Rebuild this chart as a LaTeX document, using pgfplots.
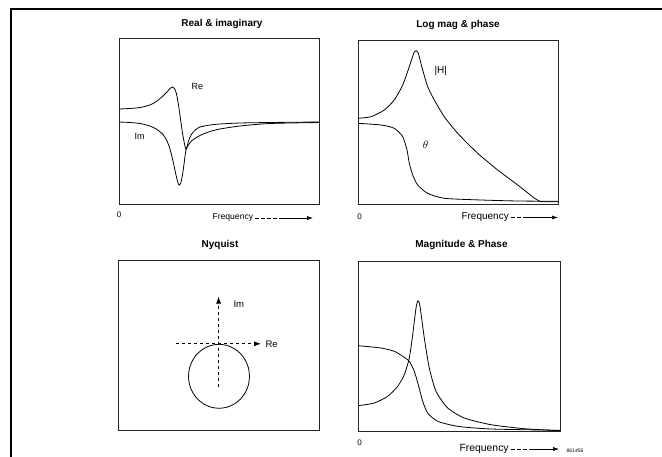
\documentclass[border=0pt]{standalone}
\usepackage{pgfplots}
\pgfplotsset{compat=1.18}
\usepackage{fontspec}
\setmainfont{Liberation Sans}
\usetikzlibrary{arrows.meta}
\pgfplotsset{
  panel/.style={scale only axis, y dir=reverse, xtick=\empty, ytick=\empty,
    axis line style={line width=0.7pt, black!85}, clip=false},
  curve/.style={black, line width=0.8pt, smooth, tension=0.4, mark=none},
}
\begin{document}
\begin{tikzpicture}
\path[use as bounding box] (0,0) rectangle (662pt,-457pt);
% outer frame
\draw[line width=2.6pt, black] (11pt,-457pt) -- (11pt,-9pt) -- (662pt,-9pt);

% Panel 1: Real & imaginary
\begin{axis}[panel, at={(119pt,-38pt)}, anchor=north west, width=200pt, height=166pt,
  xmin=119, xmax=319, ymin=38, ymax=204]
\addplot[curve] coordinates {(119,109) (130,108.5) (140,107.5) (150,105) (157,101) (163,96) (167,92) (170,88.5) (172.5,87) (174.5,88.5) (176.5,94) (178.5,105) (180.5,119) (182.5,133) (184.5,144) (185.8,149) (187.2,146) (189,139.5) (192,133.5) (196,129.5) (200,127) (210,125) (220,124) (240,123) (270,122.5) (319,122)};
\addplot[curve] coordinates {(119,122) (130,122.5) (140,123.5) (150,126) (157,129.5) (163,134.5) (167,141) (170,149) (173,161) (176,175) (178,183) (179.3,185) (180.6,183.5) (182.5,175) (184.3,162) (185.8,151) (188,145.5) (192,140.5) (200,135.5) (210,131.5) (220,129) (240,126) (270,123.5) (319,122.5)};
\end{axis}

% Panel 2: Log mag & phase
\begin{axis}[panel, at={(358pt,-40pt)}, anchor=north west, width=200pt, height=164pt,
  xmin=358, xmax=558, ymin=40, ymax=204]
\addplot[curve] coordinates {(358,118.3) (371,116.7) (384.3,110) (394.3,100) (402.7,85) (409.3,66.7) (413.7,53.3) (416,50.7) (418.3,53.3) (422.7,70) (427.7,86.7) (434.3,100) (444.3,116.7) (457.7,133.3) (477.7,153.3) (497.7,170) (517.7,185) (536,199.3) (541,201.7) (558,201.7)};
\addplot[curve] coordinates {(358,123.3) (381,125) (394.3,128.3) (402.7,136.7) (407,150) (409.3,163.3) (412.7,175) (417.7,185) (427.7,193.3) (444.3,198.3) (481,200) (517.7,201) (558,201.3)};
\end{axis}

% Panel 3: Nyquist
\begin{axis}[panel, at={(118pt,-260pt)}, anchor=north west, width=201pt, height=170pt,
  xmin=118, xmax=319, ymin=260, ymax=430]
\addplot[black, line width=0.8pt, dash pattern=on 3pt off 3pt, -{Latex[length=7pt,width=5pt]}] coordinates {(176,343.8) (261,343.8)};
\addplot[black, line width=0.8pt, dash pattern=on 3pt off 3pt, -{Latex[length=7pt,width=5pt]}] coordinates {(218.6,386.7) (218.6,296.5)};
\addplot[black, line width=0.8pt, smooth, tension=0.5, mark=none] coordinates {(249.5,376.3) (248.5,384.6) (245.4,392.3) (240.6,398.9) (234.3,404.0) (226.9,407.2) (219.0,408.3) (211.1,407.2) (203.8,404.0) (197.4,398.9) (192.6,392.3) (189.5,384.6) (188.5,376.3) (189.5,368.0) (192.6,360.3) (197.4,353.7) (203.8,348.6) (211.1,345.4) (219.0,344.3) (226.9,345.4) (234.3,348.6) (240.6,353.7) (245.4,360.3) (248.5,368.0) (249.5,376.3)};
\end{axis}

% Panel 4: Magnitude & Phase
\begin{axis}[panel, at={(358pt,-261pt)}, anchor=north west, width=202pt, height=170pt,
  xmin=358, xmax=560, ymin=261, ymax=431]
\addplot[curve] coordinates {(358,405.7) (374.3,403) (387.7,396.3) (397.7,386.3) (404.3,374.7) (409.3,358) (412.7,334.7) (416,308) (418,300.7) (420,306.3) (424.3,338) (429.3,368) (436,391.3) (447.7,408) (464.3,418) (491,424.7) (524.3,428.7) (560,430.7)};
\addplot[curve] coordinates {(358,345.7) (381,348) (394.3,351.3) (402.7,356.3) (409.3,361.3) (414.3,371.3) (418.3,384.7) (422.7,401.3) (427.7,413) (437.7,421.3) (457.7,426.3) (491,429) (560,430.3)};
\end{axis}

\begin{scope}[x=1pt,y=-1pt]
% titles
\node[font=\bfseries\fontsize{10}{12}\selectfont] at (222,23.5) {Real \& imaginary};
\node[font=\bfseries\fontsize{10}{12}\selectfont] at (458,25) {Log mag \& phase};
\node[font=\bfseries\fontsize{10}{12}\selectfont] at (220,245) {Nyquist};
\node[font=\bfseries\fontsize{10}{12}\selectfont] at (461.5,245.3) {Magnitude \& Phase};
% in-panel labels
\node[font=\fontsize{9}{11}\selectfont, anchor=west] at (188,86) {Re};
\node[font=\fontsize{9}{11}\selectfont, anchor=west] at (131,136) {Im};
\node[font=\fontsize{10}{12}\selectfont, anchor=west] at (431,70.7) {|H|};
\node[font=\fontsize{11}{12}\selectfont] at (425.7,145) {$\theta$};
\node[font=\fontsize{9.5}{11}\selectfont, anchor=west] at (262,343.8) {Re};
\node[font=\fontsize{9.5}{11}\selectfont, anchor=west] at (230,304.5) {Im};
% zeros
\node[font=\fontsize{8}{10}\selectfont] at (119,215) {0};
\node[font=\fontsize{8}{10}\selectfont] at (359.5,216.7) {0};
\node[font=\fontsize{8}{10}\selectfont] at (359.5,443) {0};
% frequency labels and arrows
\node[font=\fontsize{8.6}{10}\selectfont, anchor=west] at (209,217.5) {Frequency};
\draw[line width=0.6pt, dash pattern=on 4pt off 2pt] (255,218) -- (283,218);
\draw[line width=0.6pt, -{Latex[length=6pt,width=4pt]}] (283,218) -- (313,218);
\node[font=\fontsize{10}{12}\selectfont, anchor=west] at (458,216.7) {Frequency};
\draw[line width=0.6pt, dash pattern=on 4pt off 2pt] (511,217.5) -- (527,217.5);
\draw[line width=0.6pt, -{Latex[length=6pt,width=4pt]}] (527,217.5) -- (558,217.5);
\node[font=\fontsize{10.4}{12}\selectfont, anchor=west] at (456,448.7) {Frequency};
\draw[line width=0.6pt, dash pattern=on 4pt off 2pt] (511,449) -- (530,449);
\draw[line width=0.6pt, -{Latex[length=6pt,width=4pt]}] (530,449) -- (559,449);
\node[font=\itshape\fontsize{5}{6}\selectfont] at (575,450.7) {861456};
\end{scope}
\end{tikzpicture}
\end{document}
